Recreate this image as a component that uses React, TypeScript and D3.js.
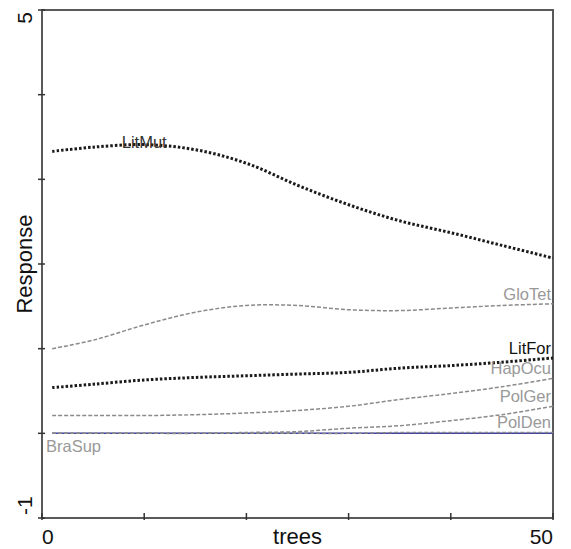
import { useEffect, useRef } from 'react';
import * as d3 from 'd3';

// values
const trees = [1, 5, 10, 15, 20, 25, 30, 35, 40, 45, 50];
const litMut = [3.33, 3.38, 3.41, 3.35, 3.19, 2.93, 2.7, 2.51, 2.37, 2.22, 2.07];
const gloTet = [1.0, 1.1, 1.28, 1.43, 1.51, 1.51, 1.46, 1.45, 1.48, 1.51, 1.53];
const litFor = [0.54, 0.58, 0.63, 0.66, 0.68, 0.7, 0.72, 0.77, 0.8, 0.84, 0.89];
const hapOcu = [0.21, 0.21, 0.21, 0.22, 0.24, 0.27, 0.32, 0.4, 0.47, 0.55, 0.65];
const polGer = [0.0, 0.0, 0.0, 0.0, 0.01, 0.02, 0.06, 0.09, 0.15, 0.22, 0.32];
const polDen = [0.0, 0.0, 0.0, 0.0, 0.0, 0.0, 0.0, 0.01, 0.01, 0.01, 0.01];
const braSup = [0, 0, 0, 0, 0, 0, 0, 0, 0, 0, 0];

const xTicks = [0, 10, 20, 30, 40, 50];
const yTicks = [-1, 0, 1, 2, 3, 4, 5];

const series = [
  { name: 'BraSup', values: braSup, kind: 'blue' },
  { name: 'PolDen', values: polDen, kind: 'gray' },
  { name: 'PolGer', values: polGer, kind: 'gray' },
  { name: 'HapOcu', values: hapOcu, kind: 'gray' },
  { name: 'GloTet', values: gloTet, kind: 'gray' },
  { name: 'LitFor', values: litFor, kind: 'black' },
  { name: 'LitMut', values: litMut, kind: 'black' },
];

function App() {
  const ref = useRef<SVGSVGElement>(null);
  const width = 571;
  const height = 549;
  const left = 42;
  const right = 553;
  const top = 10;
  const bottom = 518;
  const font = '"Liberation Sans", Arial, sans-serif';

  useEffect(() => {
    const svg = d3.select(ref.current);
    svg.selectAll('*').remove();

    const x = d3.scaleLinear().domain([0, 50]).range([left, right]);
    const y = d3.scaleLinear().domain([-1, 5]).range([bottom, top]);

    const line = d3.line<number>()
      .x((d, i) => x(trees[i]))
      .y((d) => y(d))
      .curve(d3.curveCatmullRom);

    // frame
    svg.append('rect')
      .attr('x', left)
      .attr('y', top)
      .attr('width', right - left)
      .attr('height', bottom - top)
      .attr('fill', 'none')
      .attr('stroke', '#5a5a5a')
      .attr('stroke-width', 2);

    // y ticks
    svg.append('g')
      .selectAll('line')
      .data(yTicks)
      .enter()
      .append('line')
      .attr('x1', left - 4)
      .attr('x2', left + 3)
      .attr('y1', (d) => y(d))
      .attr('y2', (d) => y(d))
      .attr('stroke', '#333')
      .attr('stroke-width', 1.5);

    // x ticks
    svg.append('g')
      .selectAll('line')
      .data(xTicks)
      .enter()
      .append('line')
      .attr('x1', (d) => x(d))
      .attr('x2', (d) => x(d))
      .attr('y1', bottom + 2)
      .attr('y2', bottom - 5)
      .attr('stroke', '#333')
      .attr('stroke-width', 1.5);

    // curves
    svg.append('g')
      .selectAll('path')
      .data(series)
      .enter()
      .append('path')
      .attr('d', (d) => line(d.values))
      .attr('fill', 'none')
      .attr('stroke', (d) => {
        if (d.kind === 'blue') return '#3a3aa8';
        if (d.kind === 'black') return '#1a1a1a';
        return '#8a8a8a';
      })
      .attr('stroke-width', (d) => (d.kind === 'black' ? 3 : 1.5))
      .attr('stroke-dasharray', (d) => {
        if (d.kind === 'blue') return null;
        if (d.kind === 'black') return '2.5,2';
        return '4,2';
      });

    // right-hand labels
    const rightLabels = series.filter((d) => d.name !== 'BraSup' && d.name !== 'LitMut');
    svg.append('g')
      .selectAll('text')
      .data(rightLabels)
      .enter()
      .append('text')
      .attr('x', right - 2)
      .attr('y', (d) => y(d.values[d.values.length - 1]) - 4)
      .attr('text-anchor', 'end')
      .attr('font-family', font)
      .attr('font-size', 16.5)
      .attr('fill', (d) => (d.kind === 'black' ? '#111' : '#999'))
      .text((d) => d.name);

    svg.append('text')
      .attr('x', x(10))
      .attr('y', y(litMut[2]) + 3)
      .attr('text-anchor', 'middle')
      .attr('font-family', font)
      .attr('font-size', 16.5)
      .attr('fill', '#333')
      .text('LitMut');

    svg.append('text')
      .attr('x', left + 4)
      .attr('y', y(braSup[0]) + 19)
      .attr('font-family', font)
      .attr('font-size', 16.5)
      .attr('fill', '#999')
      .text('BraSup');

    // tick labels
    svg.append('text')
      .attr('x', x(0))
      .attr('y', 544)
      .attr('font-family', font)
      .attr('font-size', 21)
      .attr('fill', '#111')
      .text('0');

    svg.append('text')
      .attr('x', x(50))
      .attr('y', 544)
      .attr('text-anchor', 'end')
      .attr('font-family', font)
      .attr('font-size', 21)
      .attr('fill', '#111')
      .text('50');

    svg.append('text')
      .attr('x', (left + right) / 2)
      .attr('y', 544)
      .attr('text-anchor', 'middle')
      .attr('font-family', font)
      .attr('font-size', 22)
      .attr('fill', '#111')
      .text('trees');

    svg.append('text')
      .attr('transform', `translate(32, ${y(5) + 2}) rotate(-90)`)
      .attr('text-anchor', 'end')
      .attr('font-family', font)
      .attr('font-size', 21)
      .attr('fill', '#111')
      .text('5');

    svg.append('text')
      .attr('transform', `translate(32, ${y(-1) - 3}) rotate(-90)`)
      .attr('text-anchor', 'start')
      .attr('font-family', font)
      .attr('font-size', 21)
      .attr('fill', '#111')
      .text('-1');

    svg.append('text')
      .attr('transform', `translate(32, ${(top + bottom) / 2}) rotate(-90)`)
      .attr('text-anchor', 'middle')
      .attr('font-family', font)
      .attr('font-size', 22)
      .attr('fill', '#111')
      .text('Response');
  }, []);

  return (
    <svg
      ref={ref}
      width={width}
      height={height}
      style={{ position: 'absolute', left: 0, top: 0, background: '#fff' }}
    />
  );
}

export default App;
